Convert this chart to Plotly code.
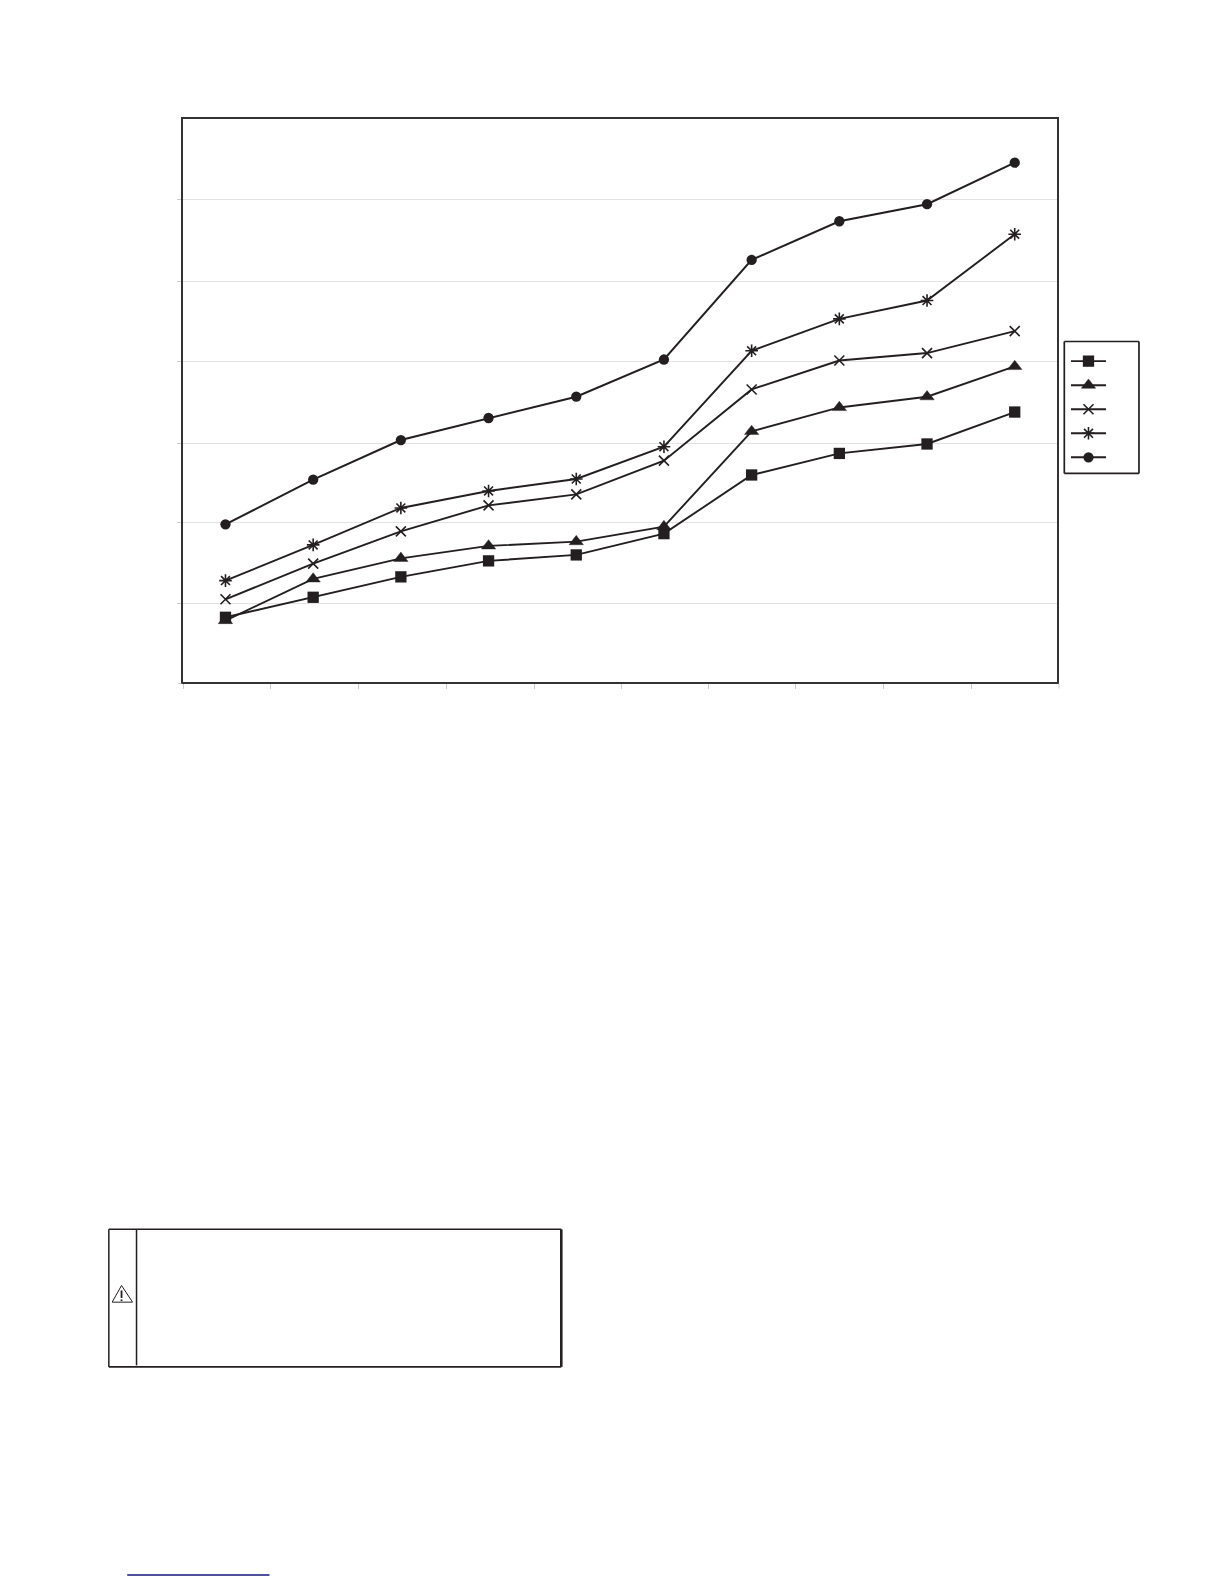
import plotly.graph_objects as go

categories = [1, 2, 3, 4, 5, 6, 7, 8, 9, 10]
x_tick_positions = [0.5213, 1.513, 2.516, 3.519, 4.522, 5.513, 6.513, 7.504, 8.507, 9.502]
y_tick_positions = [0.978, 1.981, 2.972, 3.988, 4.978, 5.994]

series_square = [0.812, 1.060, 1.313, 1.511, 1.585, 1.849, 2.576, 2.843, 2.960, 3.356]
series_triangle = [0.772, 1.288, 1.543, 1.697, 1.750, 1.936, 3.116, 3.413, 3.546, 3.921]
series_x = [1.035, 1.477, 1.877, 2.199, 2.336, 2.753, 3.636, 3.995, 4.087, 4.359]
series_asterisk = [1.267, 1.709, 2.167, 2.378, 2.526, 2.926, 4.115, 4.511, 4.738, 5.560]
series_circle = [1.964, 2.518, 3.009, 3.282, 3.546, 4.007, 5.242, 5.721, 5.932, 6.447]

INK = "#231f20"
W, H = 1224, 1584
DY = 0.8
L, R, T, B = 182.5, 1057, 118, 681.5


def px(x):
    return (x - L) / (R - L)


def py(y):
    return (B - y) / (B - T)


fig = go.Figure()
styles = [
    (series_square, "square", 11.3, 0, 1.9),
    (series_triangle, "triangle-up", 12.5, 0.4, 1.9),
    (series_x, "x-thin-open", 10, 1.6, 1.9),
    (series_asterisk, "asterisk-open", 10.5, 1.6, 1.9),
    (series_circle, "circle", 10.3, 0, 2.0),
]
for values, symbol, size, mlw, lw in styles:
    fig.add_trace(go.Scatter(
        x=categories, y=values, mode="lines+markers", name="\u00a0", hoverinfo="skip",
        line=dict(color=INK, width=lw),
        marker=dict(symbol=symbol, size=size, color=INK, line=dict(color=INK, width=mlw)),
    ))


def rule(x0, y0, x1, y1, width, color=INK):
    return dict(type="line", xref="paper", yref="paper",
                x0=px(x0), y0=py(y0), x1=px(x1), y1=py(y1),
                line=dict(color=color, width=width))


def path(points, width=1, close=True):
    d = "M " + " L ".join(f"{px(a):.5f},{py(b):.5f}" for a, b in points) + (" Z" if close else "")
    return dict(type="path", xref="paper", yref="paper", path=d,
                line=dict(color=INK, width=width), fillcolor="rgba(0,0,0,0)")


shapes = [
    # stubs at the axis ends, past the frame
    rule(1059, 683, 1059, 688, 1, "#cccccc"),
    rule(177.7, 683, 181, 683, 1, "#cccccc"),
    # legend frame
    rule(1064.3, 340.7, 1139, 340.7, 1.7),
    rule(1064.3, 472.7, 1139, 472.7, 1.7),
    rule(1064.3, 340.7, 1064.3, 472.7, 1.7),
    rule(1139, 340.7, 1139, 472.7, 1.7),
    # warning box
    rule(108.3, 1229.3, 561, 1229.3, 1.5),
    rule(108.3, 1367, 561, 1367, 1.8),
    rule(108.3, 1229.3, 108.3, 1367, 1.5),
    rule(561, 1229.3, 561, 1367, 2.6),
    rule(136, 1229.3, 136, 1365.5, 1.5),
    path([(121, 1285.5), (132, 1302.2), (111.6, 1302.2)], 1),
    path([(121, 1290.5), (121, 1298), ], 1.8, close=False),
    path([(121, 1299.5), (121, 1301.1)], 1.8, close=False),
    rule(126.7, 1575.3, 269, 1575.3, 1.5, "#15157a"),
]

y_at_bottom = (682.3 - B) / 80.75
y_at_top = (682.3 - T) / 80.75
x_per_px = 1 / 87.74

fig.update_layout(
    width=W, height=H,
    margin=dict(l=L, r=W - R, t=T + DY, b=H - B - DY, pad=0, autoexpand=False),
    paper_bgcolor="white", plot_bgcolor="white",
    font=dict(family="Liberation Sans", color=INK),
    showlegend=True,
    legend=dict(
        x=px(1066), y=py(343.3), xanchor="left", yanchor="top",
        borderwidth=0, bgcolor="rgba(0,0,0,0)",
        font=dict(size=16.2), itemwidth=35, entrywidth=30, entrywidthmode="pixels",
        itemclick=False, itemdoubleclick=False,
    ),
    xaxis=dict(
        range=[1 - (225 - L) * x_per_px, 10 + (R - 1014.7) * x_per_px],
        tickmode="array", tickvals=x_tick_positions,
        ticktext=[""] * len(x_tick_positions), showgrid=False, zeroline=False,
        showline=True, mirror=True, linecolor="#333333", linewidth=1.7,
        ticks="outside", ticklen=5, tickwidth=1, tickcolor="#cccccc",
    ),
    yaxis=dict(
        range=[y_at_bottom, y_at_top], tickmode="array", tickvals=y_tick_positions,
        ticktext=[""] * len(y_tick_positions), showgrid=True, gridcolor="#e2e2e2", gridwidth=1.2,
        zeroline=False, showline=True, mirror=True, linecolor="#333333", linewidth=1.7,
        ticks="outside", ticklen=4, tickwidth=1, tickcolor="#cccccc",
    ),
    shapes=shapes,
)

fig.write_html("out.html", config=dict(displayModeBar=False),
               post_script="document.body.style.margin='0';")
